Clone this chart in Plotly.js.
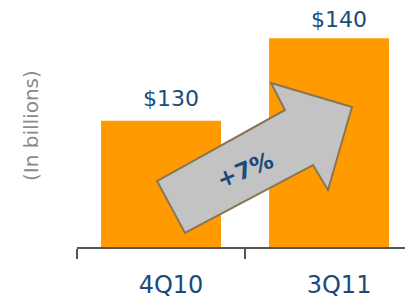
<!DOCTYPE html>
<html><head><meta charset="utf-8">
<script src="https://cdn.plot.ly/plotly-3.0.1.min.js"></script>
<style>html,body{margin:0;padding:0;background:#fff}#c{width:405px;height:303px}</style>
</head><body><div id="c"></div>
<script>
var categories = ["4Q10", "3Q11"];
var values = [130, 140];
var valueLabels = ["$130", "$140"];
var growthLabel = "+7%";
var yTitle = "(In billions)";

var W = 405, H = 303, L = 77, B = 56;
function px(x){ return (x - L) / (W - L); }
function py(y){ return (H - B - y) / (H - B); }
var pts = [[157,181],[285,110],[271,83],[352,107],[328,190],[313,165],[185,233]];
var path = pts.map(function(p,i){ return (i? 'L':'M') + px(p[0]).toFixed(4) + ',' + py(p[1]).toFixed(4); }).join(' ') + ' Z';

var blue = '#1b4a7c';
var data = [{
  type: 'bar', x: categories, y: values, width: 0.714,
  marker: {color: '#ff9a00', line: {width: 0}},
  hoverinfo: 'none'
}];
var annotations = categories.map(function(c, i){
  return {x: c, y: values[i], xref: 'x', yref: 'y', text: valueLabels[i], showarrow: false,
    xanchor: 'center', yanchor: 'bottom', xshift: 10, yshift: i === 0 ? 8 : 4,
    font: {family: 'DejaVu Sans', size: 22, color: blue}};
});
annotations.push({x: px(245), y: py(170), xref: 'paper', yref: 'paper', text: growthLabel, showarrow: false,
  textangle: -22, xanchor: 'center', yanchor: 'middle',
  font: {family: 'DejaVu Sans', size: 23, color: blue, weight: 'bold'}});
annotations.push({x: px(31), y: py(125), xref: 'paper', yref: 'paper', text: yTitle, showarrow: false,
  xanchor: 'center', yanchor: 'middle', textangle: -90,
  font: {family: 'DejaVu Sans', size: 20, color: '#8a8a8a'}});

var layout = {
  width: W, height: H,
  margin: {l: L, r: 0, t: 0, b: B, pad: 0},
  paper_bgcolor: '#fff', plot_bgcolor: '#fff',
  showlegend: false,
  xaxis: {type: 'category', range: [-0.5, 1.452], showline: true, linecolor: '#555', linewidth: 1.5,
    ticks: 'outside', tickson: 'boundaries', ticklen: 10, tickcolor: '#555', tickwidth: 1.5,
    ticklabelshift: 10, ticklabelstandoff: 16,
    tickfont: {family: 'DejaVu Sans', size: 24, color: blue}, showgrid: false, zeroline: false, fixedrange: true},
  yaxis: {range: [114.67, 144.65], visible: false, showgrid: false, zeroline: false, fixedrange: true},
  shapes: [{type: 'path', xref: 'paper', yref: 'paper', path: path,
    fillcolor: '#c3c3c3', line: {color: '#8a7655', width: 2}}],
  annotations: annotations
};
Plotly.newPlot('c', data, layout, {displayModeBar: false, staticPlot: true});
</script></body></html>
